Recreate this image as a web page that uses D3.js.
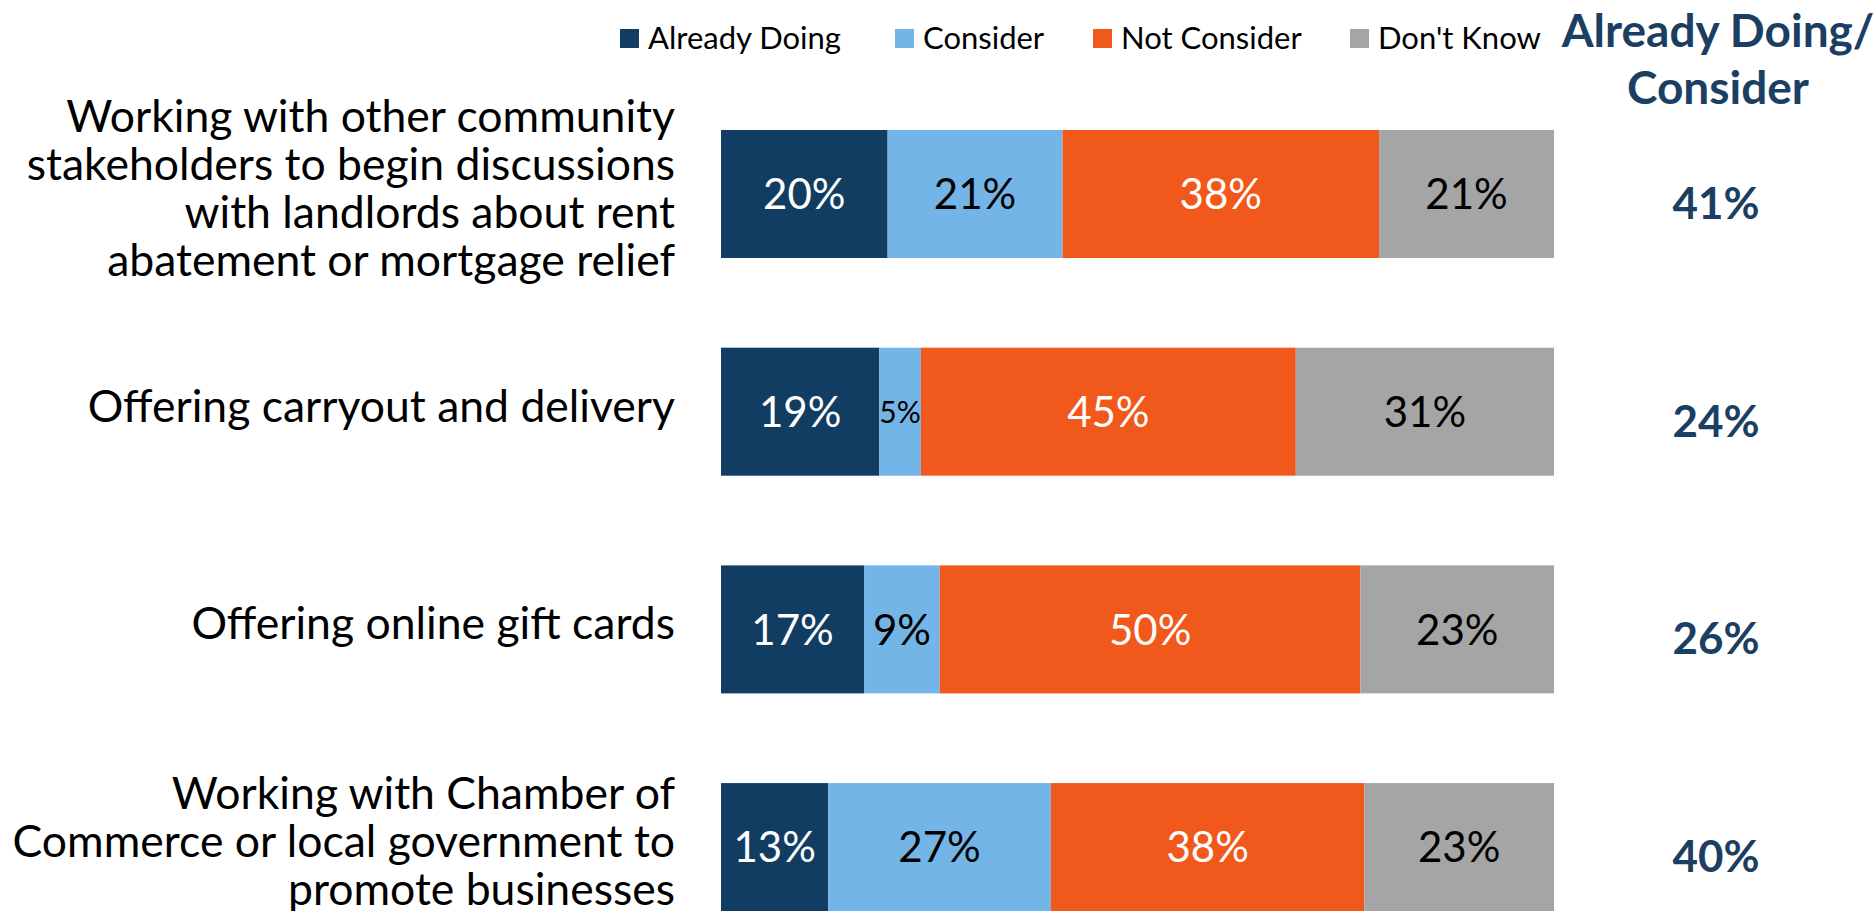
<!DOCTYPE html>
<html><head><meta charset="utf-8">
<script src="https://cdn.jsdelivr.net/npm/d3@7"></script>
<style>
html,body{margin:0;padding:0;background:#fff;}
svg{display:block;}
svg text{font-family:Lato,"Open Sans",sans-serif;}
</style></head>
<body><svg id="c" width="1874" height="911"></svg>
<script>
const categories = [
  "Working with other community stakeholders to begin discussions with landlords about rent abatement or mortgage relief",
  "Offering carryout and delivery",
  "Offering online gift cards",
  "Working with Chamber of Commerce or local government to promote businesses"
];
const categoryLines = [
  ["Working with other community", "stakeholders to begin discussions", "with landlords about rent", "abatement or mortgage relief"],
  ["Offering carryout and delivery"],
  ["Offering online gift cards"],
  ["Working with Chamber of", "Commerce or local government to", "promote businesses"]
];
const seriesNames = ["Already Doing", "Consider", "Not Consider", "Don't Know"];
const alreadyDoing = [20, 19, 17, 13];
const consider = [21, 5, 9, 27];
const notConsider = [38, 45, 50, 38];
const dontKnow = [21, 31, 23, 23];
const combined = [41, 24, 26, 40];
const colors = ["#123d62", "#74b5e7", "#f0591b", "#a5a5a5"];
const labelColors = ["#ffffff", "#000000", "#ffffff", "#000000"];

const rows = categories.map((c, i) => ({
  cat: c,
  "Already Doing": alreadyDoing[i],
  "Consider": consider[i],
  "Not Consider": notConsider[i],
  "Don't Know": dontKnow[i]
}));

const svg = d3.select("#c");
const x = d3.scaleLinear().domain([0, 1]).range([721, 1554]);
const y = d3.scaleBand().domain(categories).range([85.15, 955.95]).paddingInner(0.412).paddingOuter(0.206);

const stack = d3.stack().keys(seriesNames).offset(d3.stackOffsetExpand);
const layers = stack(rows);

const g = svg.append("g");
layers.forEach((layer, si) => {
  const lg = g.append("g");
  lg.selectAll("rect").data(layer).join("rect")
    .attr("x", d => x(d[0]))
    .attr("y", d => y(d.data.cat))
    .attr("width", d => x(d[1]) - x(d[0]))
    .attr("height", y.bandwidth())
    .attr("fill", colors[si]);
  lg.selectAll("text").data(layer).join("text")
    .attr("x", d => (x(d[0]) + x(d[1])) / 2)
    .attr("y", d => y(d.data.cat) + y.bandwidth() / 2)
    .attr("dy", "0.36em")
    .attr("text-anchor", "middle")
    .attr("fill", labelColors[si])
    .style("font-size", d => (x(d[1]) - x(d[0]) < 60 ? "30px" : "42px"))
    .text(d => d.data[seriesNames[si]] + "%");
});

// category labels (axis)
const yAxis = d3.axisLeft(y).tickSize(0).tickPadding(0).tickFormat("");
const ax = svg.append("g").attr("transform", "translate(675,0)").call(yAxis);
ax.select(".domain").remove();
const lineH = 48;
ax.selectAll(".tick").each(function(d, i) {
  const lines = categoryLines[i];
  const t = d3.select(this).append("text")
    .attr("text-anchor", "end")
    .attr("fill", "#000")
    .style("font-size", "44.5px");
  lines.forEach((ln, j) => {
    t.append("tspan").attr("x", 0)
      .attr("y", (j - (lines.length - 1) / 2) * lineH - 6)
      .attr("dy", "0.36em")
      .text(ln);
  });
});

// right column
svg.append("g").selectAll("text").data(categories).join("text")
  .attr("x", 1716)
  .attr("y", d => y(d) + y.bandwidth() / 2 + 9)
  .attr("dy", "0.36em")
  .attr("text-anchor", "middle")
  .attr("fill", "#1b3f63")
  .style("font-size", "44px")
  .style("font-weight", "bold")
  .text((d, i) => combined[i] + "%");

const hdr = svg.append("text").attr("text-anchor", "middle").attr("fill", "#1b3f63")
  .style("font-size", "46px").style("font-weight", "bold");
hdr.append("tspan").attr("x", 1718).attr("y", 30).attr("dy", "0.36em").text("Already Doing/");
hdr.append("tspan").attr("x", 1718).attr("y", 87).attr("dy", "0.36em").text("Consider");

// legend
const legendX = [620, 895, 1093, 1350];
const lg = svg.append("g").selectAll("g").data(seriesNames).join("g")
  .attr("transform", (d, i) => `translate(${legendX[i]},38)`);
lg.append("rect").attr("x", 0).attr("y", -9).attr("width", 19).attr("height", 19)
  .attr("fill", (d, i) => colors[i]);
lg.append("text").attr("x", 28).attr("y", 0).attr("dy", "0.36em")
  .style("font-size", "31px").attr("fill", "#000").text(d => d);
</script></body></html>
